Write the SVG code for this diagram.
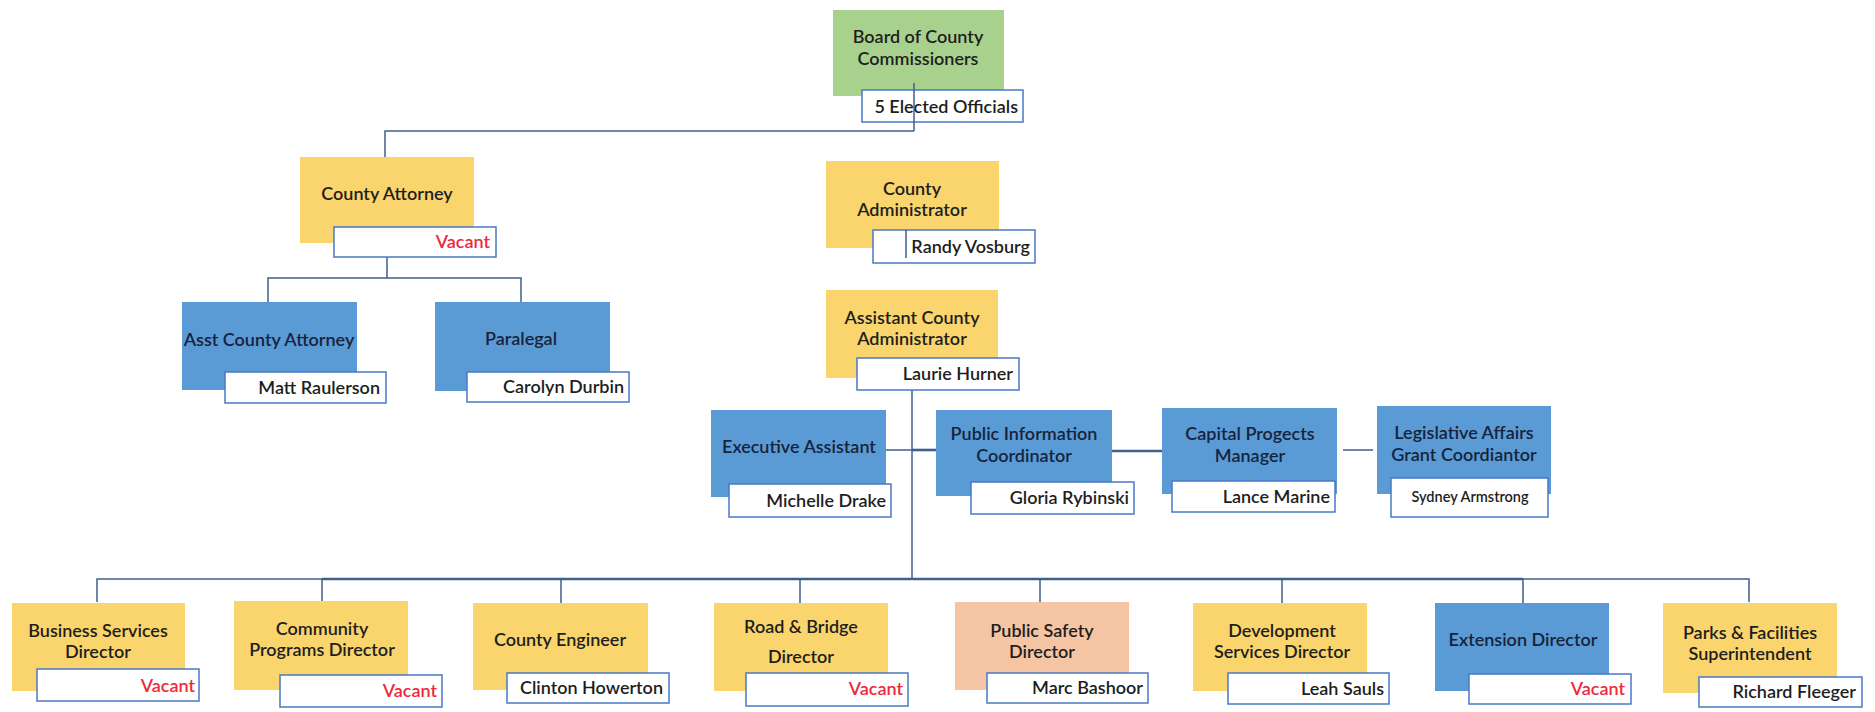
<svg xmlns="http://www.w3.org/2000/svg" width="1875" height="712" viewBox="0 0 1875 712">
<style>
.bg{fill:#ffffff}
.y{fill:#fad46c}
.b{fill:#5b9bd5}
.g{fill:#a9d18e}
.p{fill:#f5c4a2}
.lab{fill:#ffffff;stroke:#4a78c6;stroke-width:1.5}
text{font-family:Lato,"Liberation Sans",sans-serif;font-size:18px;font-weight:600;fill:#1e1e1e}
.t{text-anchor:middle}
.bt{text-anchor:middle;fill:#16233c}
.n{text-anchor:end}
.v{text-anchor:end;fill:#f0283c}
.s{font-size:14.5px;text-anchor:middle}
.c{fill:none;stroke:#3f5f8c;stroke-width:1.5}
.ck{fill:none;stroke:#3f5f8c;stroke-width:2.6}
</style>
<rect class="bg" x="0" y="0" width="1875" height="712"/>

<g id="connectors">
<path class="c" d="M385,157 V131 H914"/>
<path class="c" d="M387,257 V278 M268,302 V278 H521 V302"/>
<path class="c" d="M912,390 V579"/>
<path class="c" d="M886,450 H912"/>
<path class="ck" d="M912,450 H937"/>
<path class="ck" d="M1112,451 H1162"/>
<path class="c" d="M1343,450 H1373"/>
<path class="c" d="M97,602 V579 H322"/>
<path class="ck" d="M322,579 H1523"/>
<path class="c" d="M1523,579 H1749 V602"/>
<path class="c" d="M322,579 V601 M561,579 V603 M800,579 V603 M1040,579 V602 M1282,579 V603 M1523,579 V603"/>
</g>

<g id="board">
<rect class="g" x="833" y="10" width="171" height="86"/>
<text class="t" x="918" y="43">Board of County</text>
<text class="t" x="918" y="65">Commissioners</text>
<rect class="lab" x="862" y="90" width="161" height="32"/>
<text class="n" x="1018" y="113">5 Elected Officials</text>
<path class="c" d="M914,83 V131"/>
</g>

<g id="county-attorney">
<rect class="y" x="300" y="157" width="174" height="86"/>
<text class="t" x="387" y="200">County Attorney</text>
<rect class="lab" x="334" y="227" width="162" height="30"/>
<text class="v" x="490" y="248">Vacant</text>
</g>

<g id="county-administrator">
<rect class="y" x="826" y="161" width="173" height="87"/>
<text class="t" x="912" y="195">County</text>
<text class="t" x="912" y="216">Administrator</text>
<rect class="lab" x="873" y="230" width="162" height="33"/>
<path class="c" d="M906,230 V258"/>
<text class="n" x="1030" y="253">Randy Vosburg</text>
</g>

<g id="assistant-county-administrator">
<rect class="y" x="826" y="290" width="172" height="88"/>
<text class="t" x="912" y="324">Assistant County</text>
<text class="t" x="912" y="345">Administrator</text>
<rect class="lab" x="857" y="358" width="162" height="32"/>
<text class="n" x="1013" y="380">Laurie Hurner</text>
</g>

<g id="asst-county-attorney">
<rect class="b" x="182" y="302" width="175" height="88"/>
<text class="bt" x="269" y="346">Asst County Attorney</text>
<rect class="lab" x="225" y="372" width="161" height="31"/>
<text class="n" x="380" y="394">Matt Raulerson</text>
</g>

<g id="paralegal">
<rect class="b" x="435" y="302" width="175" height="89"/>
<text class="bt" x="521" y="345">Paralegal</text>
<rect class="lab" x="467" y="372" width="162" height="30"/>
<text class="n" x="624" y="393">Carolyn Durbin</text>
</g>

<g id="executive-assistant">
<rect class="b" x="711" y="410" width="175" height="87"/>
<text class="bt" x="799" y="453">Executive Assistant</text>
<rect class="lab" x="729" y="484" width="162" height="33"/>
<text class="n" x="886" y="507">Michelle Drake</text>
</g>

<g id="public-information-coordinator">
<rect class="b" x="936" y="410" width="176" height="86"/>
<text class="bt" x="1024" y="440">Public Information</text>
<text class="bt" x="1024" y="462">Coordinator</text>
<rect class="lab" x="971" y="482" width="163" height="32"/>
<text class="n" x="1129" y="504">Gloria Rybinski</text>
</g>

<g id="capital-projects-manager">
<rect class="b" x="1162" y="408" width="175" height="86"/>
<text class="bt" x="1250" y="440">Capital Progects</text>
<text class="bt" x="1250" y="462">Manager</text>
<rect class="lab" x="1172" y="481" width="163" height="31"/>
<text class="n" x="1330" y="503">Lance Marine</text>
</g>

<g id="legislative-affairs">
<rect class="b" x="1377" y="406" width="174" height="88"/>
<text class="bt" x="1464" y="439">Legislative Affairs</text>
<text class="bt" x="1464" y="461">Grant Coordiantor</text>
<rect class="lab" x="1391" y="478" width="157" height="39"/>
<text class="s" x="1470" y="502">Sydney Armstrong</text>
</g>

<g id="business-services-director">
<rect class="y" x="12" y="603" width="173" height="88"/>
<text class="t" x="98" y="637">Business Services</text>
<text class="t" x="98" y="658">Director</text>
<rect class="lab" x="37" y="669" width="162" height="32"/>
<text class="v" x="195" y="692">Vacant</text>
</g>

<g id="community-programs-director">
<rect class="y" x="234" y="601" width="174" height="89"/>
<text class="t" x="322" y="635">Community</text>
<text class="t" x="322" y="656">Programs Director</text>
<rect class="lab" x="280" y="675" width="162" height="32"/>
<text class="v" x="437" y="697">Vacant</text>
</g>

<g id="county-engineer">
<rect class="y" x="473" y="603" width="175" height="87"/>
<text class="t" x="560" y="646">County Engineer</text>
<rect class="lab" x="507" y="673" width="162" height="30"/>
<text class="n" x="663" y="694">Clinton Howerton</text>
</g>

<g id="road-bridge-director">
<rect class="y" x="714" y="603" width="174" height="88"/>
<text class="t" x="801" y="633">Road &amp; Bridge</text>
<text class="t" x="801" y="663">Director</text>
<rect class="lab" x="746" y="673" width="162" height="33"/>
<text class="v" x="903" y="695">Vacant</text>
</g>

<g id="public-safety-director">
<rect class="p" x="955" y="602" width="174" height="88"/>
<text class="t" x="1042" y="637">Public Safety</text>
<text class="t" x="1042" y="658">Director</text>
<rect class="lab" x="987" y="673" width="161" height="30"/>
<text class="n" x="1143" y="694">Marc Bashoor</text>
</g>

<g id="development-services-director">
<rect class="y" x="1193" y="603" width="174" height="88"/>
<text class="t" x="1282" y="637">Development</text>
<text class="t" x="1282" y="658">Services Director</text>
<rect class="lab" x="1228" y="673" width="161" height="31"/>
<text class="n" x="1384" y="695">Leah Sauls</text>
</g>

<g id="extension-director">
<rect class="b" x="1435" y="603" width="174" height="88"/>
<text class="bt" x="1523" y="646">Extension Director</text>
<rect class="lab" x="1469" y="674" width="162" height="30"/>
<text class="v" x="1625" y="695">Vacant</text>
</g>

<g id="parks-facilities-superintendent">
<rect class="y" x="1663" y="603" width="174" height="90"/>
<text class="t" x="1750" y="639">Parks &amp; Facilities</text>
<text class="t" x="1750" y="660">Superintendent</text>
<rect class="lab" x="1699" y="677" width="163" height="30"/>
<text class="n" x="1856" y="698">Richard Fleeger</text>
</g>
</svg>
